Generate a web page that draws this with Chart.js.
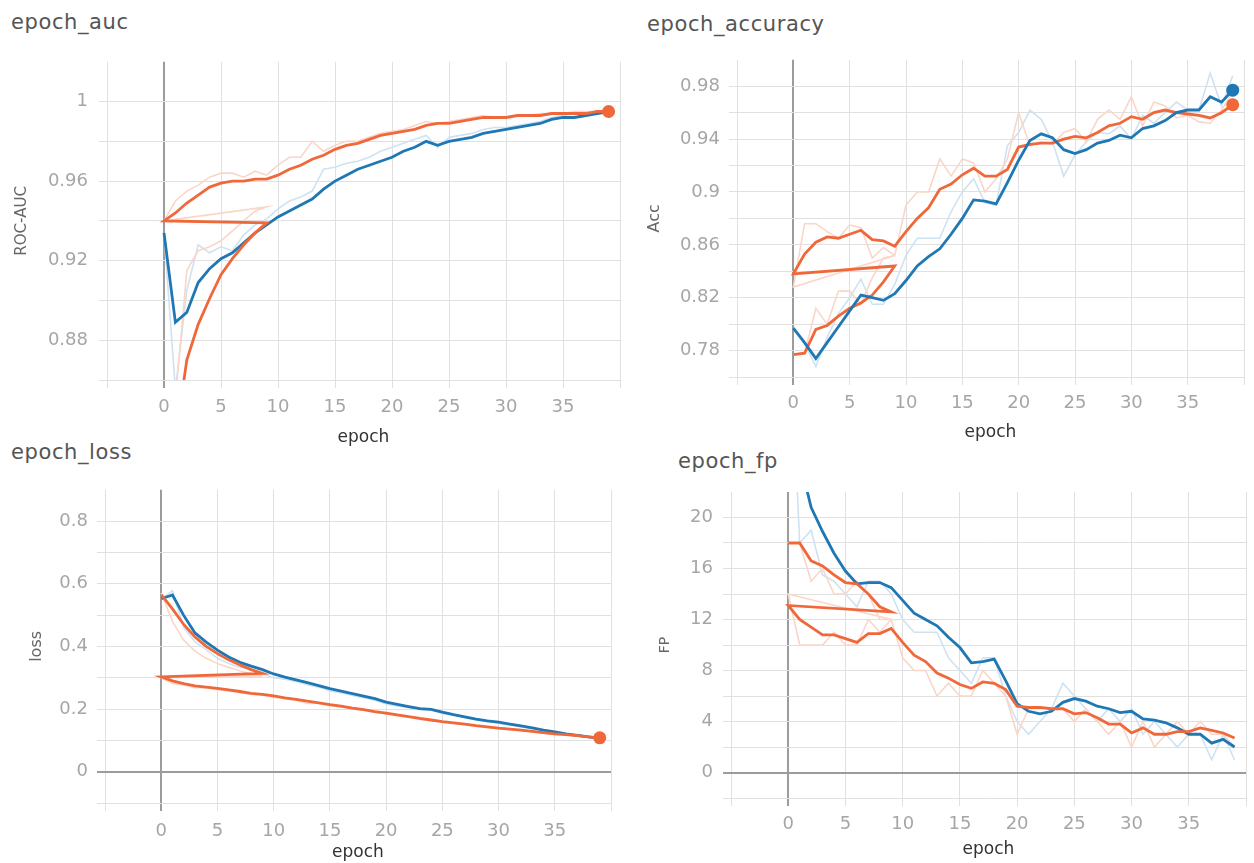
<!DOCTYPE html>
<html><head><meta charset="utf-8">
<script src="https://cdn.jsdelivr.net/npm/chart.js@4"></script>
<style>
html,body{margin:0;padding:0;background:#fff;width:1254px;height:863px;overflow:hidden;}
.t{position:absolute;font-family:"DejaVu Sans";font-size:21px;color:#555;letter-spacing:0.6px;line-height:24px;white-space:nowrap;}
.p{position:absolute;}
</style></head><body>
<div class="t" style="left:11px;top:10px">epoch_auc</div>
<div class="t" style="left:647px;top:12px">epoch_accuracy</div>
<div class="t" style="left:11px;top:440px">epoch_loss</div>
<div class="t" style="left:678px;top:449px">epoch_fp</div>
<div class="p" style="left:0;top:40px;width:630px;height:420px"><canvas id="c1"></canvas></div>
<div class="p" style="left:630px;top:40px;width:624px;height:420px"><canvas id="c2"></canvas></div>
<div class="p" style="left:0;top:470px;width:630px;height:393px"><canvas id="c3"></canvas></div>
<div class="p" style="left:630px;top:470px;width:624px;height:393px"><canvas id="c4"></canvas></div>
<script>
// ---------- categories ----------
const epochs = [0,1,2,3,4,5,6,7,8,9,10,11,12,13,14,15,16,17,18,19,20,21,22,23,24,25,26,27,28,29,30,31,32,33,34,35,36,37,38,39];
const runAEpochs = [0,1,2,3,4,5,6,7,8,9];

// ---------- tick values / labels ----------
const xTicks = [-5,0,5,10,15,20,25,30,35,40];
const xLabelVals = [0,5,10,15,20,25,30,35];
const xLabelText = ['0','5','10','15','20','25','30','35'];

const aucYTicks = [0.86,0.88,0.90,0.92,0.94,0.96,0.98,1.00,1.02];
const aucYLabelVals = [0.88,0.92,0.96,1.00];
const aucYLabelText = ['0.88','0.92','0.96','1'];

const accYTicks = [0.76,0.78,0.80,0.82,0.84,0.86,0.88,0.90,0.92,0.94,0.96,0.98,1.00];
const accYLabelVals = [0.78,0.82,0.86,0.90,0.94,0.98];
const accYLabelText = ['0.78','0.82','0.86','0.9','0.94','0.98'];

const lossYTicks = [-0.1,0,0.1,0.2,0.3,0.4,0.5,0.6,0.7,0.8,0.9];
const lossYLabelVals = [0,0.2,0.4,0.6,0.8];
const lossYLabelText = ['0','0.2','0.4','0.6','0.8'];

const fpYTicks = [-2,0,2,4,6,8,10,12,14,16,18,20,22];
const fpYLabelVals = [0,4,8,12,16,20];
const fpYLabelText = ['0','4','8','12','16','20'];

// ---------- epoch_auc ----------
const aucBlueSmooth = [0.934,0.889,0.894,0.909,0.916,0.921,0.924,0.929,0.934,0.938,0.942,0.945,0.948,0.951,0.956,0.960,0.963,0.966,0.968,0.970,0.972,0.975,0.977,0.980,0.978,0.980,0.981,0.982,0.984,0.985,0.986,0.987,0.988,0.989,0.991,0.992,0.992,0.993,0.994,0.995];
const aucBlueRaw = [0.934,0.855,0.905,0.928,0.924,0.927,0.925,0.933,0.938,0.941,0.946,0.950,0.952,0.955,0.966,0.967,0.969,0.970,0.972,0.975,0.977,0.979,0.981,0.983,0.977,0.982,0.983,0.984,0.986,0.987,0.987,0.988,0.989,0.990,0.992,0.993,0.992,0.994,0.995,0.995];
const aucOrangeA = [0.740,0.830,0.870,0.888,0.901,0.913,0.921,0.928,0.934,0.939];
const aucOrangeB = [0.940,0.944,0.949,0.953,0.957,0.959,0.960,0.960,0.961,0.961,0.963,0.966,0.968,0.971,0.973,0.976,0.978,0.979,0.981,0.983,0.984,0.985,0.986,0.988,0.989,0.989,0.990,0.991,0.992,0.992,0.992,0.993,0.993,0.993,0.994,0.994,0.994,0.994,0.995,0.995];
const aucOrangeRawA = [0.700,0.850,0.915,0.925,0.927,0.930,0.935,0.940,0.945,0.947];
const aucOrangeRawB = [0.940,0.950,0.955,0.958,0.962,0.964,0.964,0.962,0.965,0.963,0.968,0.972,0.972,0.980,0.975,0.978,0.980,0.980,0.982,0.984,0.985,0.986,0.988,0.990,0.989,0.990,0.991,0.992,0.993,0.992,0.992,0.993,0.993,0.994,0.994,0.994,0.995,0.995,0.995,0.995];

// ---------- epoch_accuracy ----------
const accBlueSmooth = [0.797,0.786,0.774,0.786,0.798,0.810,0.822,0.820,0.818,0.823,0.833,0.844,0.851,0.857,0.868,0.880,0.894,0.893,0.891,0.907,0.924,0.939,0.944,0.941,0.932,0.929,0.932,0.937,0.939,0.943,0.941,0.948,0.950,0.954,0.960,0.962,0.962,0.972,0.968,0.977];
const accBlueRaw = [0.797,0.785,0.768,0.790,0.808,0.820,0.834,0.815,0.815,0.830,0.852,0.865,0.865,0.865,0.885,0.900,0.910,0.892,0.890,0.935,0.945,0.962,0.955,0.938,0.912,0.928,0.938,0.945,0.944,0.950,0.940,0.958,0.952,0.960,0.968,0.962,0.962,0.990,0.965,0.988];
const accOrangeA = [0.777,0.778,0.796,0.799,0.806,0.812,0.816,0.822,0.832,0.844];
const accOrangeB = [0.838,0.853,0.862,0.866,0.865,0.868,0.871,0.864,0.863,0.859,0.870,0.880,0.888,0.902,0.906,0.913,0.918,0.912,0.912,0.917,0.934,0.936,0.937,0.937,0.940,0.942,0.941,0.945,0.950,0.952,0.957,0.955,0.960,0.962,0.960,0.959,0.958,0.956,0.960,0.966];
const accOrangeRawA = [0.777,0.778,0.812,0.800,0.825,0.825,0.815,0.835,0.850,0.852];
const accOrangeRawB = [0.828,0.876,0.876,0.870,0.865,0.875,0.873,0.850,0.858,0.852,0.890,0.900,0.900,0.925,0.912,0.925,0.922,0.900,0.910,0.925,0.960,0.935,0.938,0.936,0.945,0.948,0.938,0.955,0.962,0.955,0.972,0.950,0.968,0.965,0.956,0.958,0.953,0.952,0.962,0.975];

// ---------- epoch_loss ----------
const lossBlueSmooth = [0.552,0.564,0.499,0.443,0.414,0.388,0.366,0.349,0.337,0.326,0.312,0.302,0.293,0.284,0.275,0.265,0.257,0.249,0.241,0.233,0.222,0.215,0.208,0.201,0.199,0.190,0.182,0.175,0.168,0.162,0.158,0.152,0.146,0.140,0.133,0.127,0.121,0.116,0.111,0.106];
const lossBlueRaw = [0.550,0.578,0.460,0.415,0.390,0.362,0.345,0.333,0.328,0.312,0.300,0.295,0.288,0.278,0.270,0.258,0.252,0.243,0.236,0.228,0.216,0.210,0.204,0.198,0.197,0.186,0.180,0.172,0.165,0.160,0.155,0.150,0.143,0.137,0.130,0.124,0.119,0.114,0.109,0.105];
const lossOrangeA = [0.565,0.520,0.470,0.430,0.400,0.377,0.357,0.341,0.326,0.314];
const lossOrangeB = [0.303,0.290,0.281,0.274,0.270,0.266,0.261,0.256,0.250,0.247,0.242,0.236,0.231,0.225,0.220,0.214,0.209,0.203,0.198,0.192,0.187,0.181,0.176,0.170,0.165,0.160,0.156,0.152,0.147,0.143,0.139,0.136,0.133,0.129,0.125,0.121,0.118,0.115,0.111,0.108];
const lossOrangeRawA = [0.570,0.480,0.420,0.385,0.362,0.345,0.333,0.322,0.312,0.306];
const lossOrangeRawB = [0.300,0.282,0.277,0.268,0.268,0.262,0.258,0.252,0.247,0.245,0.238,0.233,0.228,0.218,0.219,0.211,0.207,0.200,0.196,0.189,0.185,0.178,0.175,0.167,0.163,0.158,0.155,0.150,0.145,0.141,0.137,0.135,0.131,0.127,0.123,0.119,0.117,0.113,0.110,0.107];

// ---------- epoch_fp ----------
const fpBlueSmooth = [30.0,24.5,20.8,18.9,17.2,15.8,14.8,14.9,14.9,14.5,13.5,12.5,12.0,11.5,10.6,9.8,8.6,8.7,8.9,7.2,5.4,4.8,4.6,4.8,5.5,5.8,5.6,5.2,5.0,4.7,4.8,4.2,4.1,3.9,3.5,3.0,3.0,2.3,2.6,2.0];
const fpBlueRaw = [38,18,19,15.5,15,14,13,15,15,14,12,11,11,11,9,8,7,9,9,6,4,3,4,5,7,6,5,4,5,4,5,3,4,3,2,3,3,1,3,1];
const fpOrangeA = [18.0,18.0,16.6,16.2,15.5,14.9,14.8,14.0,13.0,12.6];
const fpOrangeB = [13.1,12.0,11.4,10.8,10.8,10.5,10.2,10.9,10.9,11.3,10.2,9.2,8.7,7.8,7.4,6.9,6.6,7.1,7.0,6.5,5.2,5.1,5.1,5.0,5.0,4.6,4.7,4.3,3.8,3.8,3.1,3.5,3.0,3.0,3.2,3.2,3.5,3.3,3.1,2.7];
const fpOrangeRawA = [18,18,15,16,14,14,15,14,12,12];
const fpOrangeRawB = [14,10,10,10,11,10,10,12,11,12,9,8,8,6,7,6,6,8,7,6,3,5,5,5,5,4,5,4,3,4,2,4,2,3,4,3,4,3,3,2];

// ---------- styling ----------
const BLUE = '#1f77b4', ORANGE = '#f0683a';
const BLUE_RAW = '#cfe2f2', ORANGE_RAW = '#fad6c9';
const GRID = '#e0e0e0', ZERO = '#9c9c9c';
const FONT = 'DejaVu Sans';

function pts(xs, ys){ return xs.map((x,i)=>({x:x, y:ys[i]})); }
function line(data, color, width, dot){
  const n = data.length;
  return {data:data, borderColor:color, backgroundColor:color, borderWidth:width,
    pointRadius: dot ? (c => c.dataIndex === n-1 ? 6.5 : 0) : 0,
    pointHoverRadius:0, pointBorderWidth:0, pointBackgroundColor:color,
    tension:0, fill:false};
}
function labelFn(vals, texts){ return v => { const i = vals.indexOf(v); return i >= 0 ? texts[i] : ''; }; }

function makeChart(id, o){
  const yMax = o.yTicks[o.yTicks.length-1];
  new Chart(document.getElementById(id), {
    type:'line',
    data:{datasets:o.datasets},
    options:{
      responsive:true, maintainAspectRatio:false, animation:false, events:[],
      layout:{padding:o.padding},
      plugins:{legend:{display:false}, tooltip:{enabled:false}},
      scales:{
        x:{type:'linear', min:-5, max:40,
          afterBuildTicks: s => { s.ticks = xTicks.map(v=>({value:v})); },
          afterFit: s => { s.height = o.xHeight; },
          ticks:{autoSkip:false, maxRotation:0, padding:o.xLabelPad, color:'#a6a6a6',
            font:{family:FONT, size:18}, callback: labelFn(xLabelVals, xLabelText)},
          grid:{tickLength:8, color: c => c.tick && c.tick.value === 0 ? ZERO : GRID,
            lineWidth: c => c.tick && c.tick.value === 0 ? 2 : 1},
          border:{display:false},
          title:{display:true, text:'epoch', color:'#333', font:{family:FONT, size:17},
            padding:{top:0, bottom:o.xTitlePad}}
        },
        y:{type:'linear', min:o.yTicks[0], max:yMax,
          afterBuildTicks: s => { s.ticks = o.yTicks.map(v=>({value:v})); },
          afterFit: s => { s.width = o.yWidth; },
          ticks:{autoSkip:false, padding:o.yLabelPad, color:'#a6a6a6',
            font:{family:FONT, size:18}, callback: labelFn(o.yLabelVals, o.yLabelText)},
          grid:{tickLength:8,
            color: c => !c.tick ? GRID : (c.tick.value === 0 ? ZERO : (c.tick.value === yMax ? 'rgba(0,0,0,0)' : GRID)),
            lineWidth: c => c.tick && c.tick.value === 0 ? 2 : 1},
          border:{display:false},
          title:{display:true, text:o.yTitle, color:'#666', font:{family:FONT, size:o.yTitleSize},
            padding:{top:o.yTitlePad, bottom:0}}
        }
      }
    }
  });
}

makeChart('c1', {
  padding:{left:0, right:10, top:15, bottom:0}, yWidth:107, xHeight:80,
  xLabelPad:9, xTitlePad:12, yLabelPad:11, yTitle:'ROC-AUC', yTitleSize:15, yTitlePad:13,
  yTicks:aucYTicks, yLabelVals:aucYLabelVals, yLabelText:aucYLabelText,
  datasets:[
    line(pts(runAEpochs, aucOrangeA).concat(pts(epochs, aucOrangeB)), ORANGE, 2.8, true),
    line(pts(epochs, aucBlueSmooth), BLUE, 2.8, false),
    line(pts(runAEpochs, aucOrangeRawA).concat(pts(epochs, aucOrangeRawB)), ORANGE_RAW, 1.6, false),
    line(pts(epochs, aucBlueRaw), BLUE_RAW, 1.6, false)
  ]
});

makeChart('c2', {
  padding:{left:0, right:10, top:18, bottom:0}, yWidth:107, xHeight:83,
  xLabelPad:8, xTitlePad:17, yLabelPad:9, yTitle:'Acc', yTitleSize:16, yTitlePad:15,
  yTicks:accYTicks, yLabelVals:accYLabelVals, yLabelText:accYLabelText,
  datasets:[
    line(pts(epochs, accBlueSmooth), BLUE, 2.8, true),
    line(pts(runAEpochs, accOrangeA).concat(pts(epochs, accOrangeB)), ORANGE, 2.8, true),
    line(pts(runAEpochs, accOrangeRawA).concat(pts(epochs, accOrangeRawB)), ORANGE_RAW, 1.6, false),
    line(pts(epochs, accBlueRaw), BLUE_RAW, 1.6, false)
  ]
});

makeChart('c3', {
  padding:{left:0, right:19, top:13, bottom:0}, yWidth:105, xHeight:60,
  xLabelPad:10, xTitlePad:0, yLabelPad:9, yTitle:'loss', yTitleSize:16, yTitlePad:27,
  yTicks:lossYTicks, yLabelVals:lossYLabelVals, yLabelText:lossYLabelText,
  datasets:[
    line(pts(runAEpochs, lossOrangeA).concat(pts(epochs, lossOrangeB)), ORANGE, 2.8, true),
    line(pts(epochs, lossBlueSmooth), BLUE, 2.8, false),
    line(pts(runAEpochs, lossOrangeRawA).concat(pts(epochs, lossOrangeRawB)), ORANGE_RAW, 1.6, false),
    line(pts(epochs, lossBlueRaw), BLUE_RAW, 1.6, false)
  ]
});

makeChart('c4', {
  padding:{left:0, right:5, top:22, bottom:0}, yWidth:101, xHeight:65,
  xLabelPad:8, xTitlePad:3, yLabelPad:10, yTitle:'FP', yTitleSize:14, yTitlePad:27,
  yTicks:fpYTicks, yLabelVals:fpYLabelVals, yLabelText:fpYLabelText,
  datasets:[
    line(pts(runAEpochs, fpOrangeA).concat(pts(epochs, fpOrangeB)), ORANGE, 2.8, false),
    line(pts(epochs, fpBlueSmooth), BLUE, 2.8, false),
    line(pts(runAEpochs, fpOrangeRawA).concat(pts(epochs, fpOrangeRawB)), ORANGE_RAW, 1.6, false),
    line(pts(epochs, fpBlueRaw), BLUE_RAW, 1.6, false)
  ]
});
</script>
</body></html>
